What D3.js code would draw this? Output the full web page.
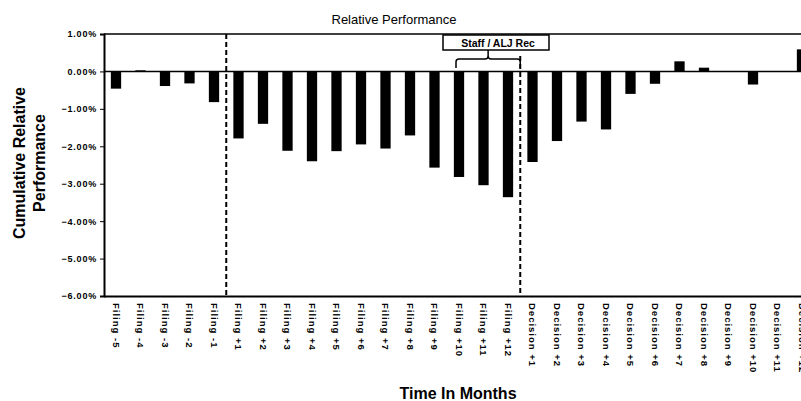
<!DOCTYPE html>
<html>
<head>
<meta charset="utf-8">
<script src="https://cdn.jsdelivr.net/npm/d3@7"></script>
<style>
  body { margin: 0; background: #fff; overflow: hidden; }
  svg { display: block; font-family: "Liberation Sans", Arial, sans-serif; }
</style>
</head>
<body>
<div id="chart"></div>
<script>
// categorias del eje X
const filingBefore = ["Filing -5", "Filing -4", "Filing -3", "Filing -2", "Filing -1"];
const filingAfter = ["Filing +1", "Filing +2", "Filing +3", "Filing +4", "Filing +5", "Filing +6",
  "Filing +7", "Filing +8", "Filing +9", "Filing +10", "Filing +11", "Filing +12"];
const decision = ["Decision +1", "Decision +2", "Decision +3", "Decision +4", "Decision +5", "Decision +6",
  "Decision +7", "Decision +8", "Decision +9", "Decision +10", "Decision +11", "Decision +12"];
const categories = filingBefore.concat(filingAfter, decision);

// valores (%)
const values = [-0.46, 0.03, -0.39, -0.32, -0.82,
  -1.79, -1.40, -2.12, -2.40, -2.13, -1.95, -2.06, -1.71, -2.57, -2.82, -3.04, -3.36,
  -2.42, -1.86, -1.34, -1.55, -0.60, -0.33, 0.27, 0.10, 0.0, -0.35, 0.0, 0.59];

const yTicks = [1, 0, -1, -2, -3, -4, -5, -6];
const title = "Relative Performance";
const xTitle = "Time In Months";
const yTitle = ["Cumulative Relative", "Performance"];
const noteText = "Staff / ALJ Rec";

const data = categories.map((c, i) => ({ cat: c, val: values[i] }));

var W = 801, H = 401;
var plotLeft = 104, plotTop = 34, plotBottom = 296;
var step = 24.5;

var svg = d3.select("#chart").append("svg")
  .attr("width", W)
  .attr("height", H);

// escalas
var x = d3.scaleBand()
  .domain(categories)
  .range([plotLeft - 0.25, plotLeft - 0.25 + step * categories.length])
  .paddingInner(0.58)
  .paddingOuter(0.29);
var y = d3.scaleLinear().domain([-6, 1]).range([plotBottom, plotTop]);

// titulo
svg.append("text")
  .attr("x", 394).attr("y", 24)
  .attr("text-anchor", "middle")
  .style("font-size", "13px")
  .text(title);

// marco superior
svg.append("line")
  .attr("x1", plotLeft).attr("x2", W + 10)
  .attr("y1", y(1)).attr("y2", y(1))
  .attr("stroke", "#000").attr("stroke-width", 1.5);

// barras
svg.selectAll("rect.bar")
  .data(data)
  .enter()
  .append("rect")
  .attr("class", "bar")
  .attr("x", d => x(d.cat))
  .attr("width", x.bandwidth())
  .attr("y", d => y(Math.max(0, d.val)))
  .attr("height", d => Math.abs(y(d.val) - y(0)))
  .attr("fill", "#000");

// linea cero
svg.append("line")
  .attr("x1", plotLeft).attr("x2", W + 10)
  .attr("y1", y(0)).attr("y2", y(0))
  .attr("stroke", "#000").attr("stroke-width", 1.5);

// eje Y
var yAxis = d3.axisLeft(y)
  .tickValues(yTicks)
  .tickSize(4)
  .tickFormat(d => d3.format(".2f")(d) + "%");
var gy = svg.append("g")
  .attr("transform", "translate(" + plotLeft + ",0)")
  .call(yAxis);
gy.select(".domain").attr("stroke-width", 2);
gy.selectAll("text")
  .attr("x", -7)
  .style("font-size", "9px")
  .style("letter-spacing", "0.8px")
  .style("font-weight", "bold")
  .attr("fill", "#000");

// eje X
var xAxis = d3.axisBottom(x).tickSize(0).tickSizeOuter(0);
var gx = svg.append("g")
  .attr("transform", "translate(0," + plotBottom + ")")
  .call(xAxis);
gx.select(".domain").attr("stroke-width", 2);
gx.selectAll("text")
  .attr("transform", "rotate(90)")
  .attr("x", 7)
  .attr("y", 0)
  .attr("dy", "0.35em")
  .style("text-anchor", "start")
  .style("font-size", "9.5px")
  .style("letter-spacing", "1px")
  .style("font-weight", "bold")
  .attr("fill", "#000");

// lineas discontinuas
var mid = function(a, b) { return (x(a) + x(b) + x.bandwidth()) / 2; };
var x1 = mid("Filing -1", "Filing +1");
var x2 = mid("Filing +12", "Decision +1");
svg.append("line")
  .attr("x1", x1).attr("x2", x1)
  .attr("y1", y(1)).attr("y2", plotBottom)
  .attr("stroke", "#000").attr("stroke-width", 2)
  .attr("stroke-dasharray", "5,3");
svg.append("line")
  .attr("x1", x2).attr("x2", x2)
  .attr("y1", 56).attr("y2", plotBottom)
  .attr("stroke", "#000").attr("stroke-width", 2)
  .attr("stroke-dasharray", "5,3");

// anotacion
var bl = x("Filing +10") + x.bandwidth() / 2 - 3;
var br = x2;
var bc = (bl + br) / 2;
svg.append("rect")
  .attr("x", 443).attr("y", 35)
  .attr("width", 106).attr("height", 15)
  .attr("fill", "#fff")
  .attr("stroke", "#000").attr("stroke-width", 1.5);
svg.append("text")
  .attr("x", 498).attr("y", 47)
  .attr("text-anchor", "middle")
  .style("font-size", "10.5px")
  .style("font-weight", "bold")
  .text(noteText);
svg.append("path")
  .attr("d", "M" + bl + ",68 L" + bl + ",62 Q" + bl + ",59 " + (bl + 3) + ",59 L" + (bc - 3) + ",59 Q" + bc + ",59 " + bc + ",56 L" + bc + ",50" +
    " M" + bc + ",56 Q" + bc + ",59 " + (bc + 3) + ",59 L" + (br - 3) + ",59 Q" + br + ",59 " + br + ",62 L" + br + ",68")
  .attr("fill", "none")
  .attr("stroke", "#000").attr("stroke-width", 1.5);

// titulos de ejes
svg.append("text")
  .attr("transform", "translate(" + 458 + "," + 399 + ")")
  .attr("text-anchor", "middle")
  .style("font-size", "16px")
  .style("font-weight", "bold")
  .text(xTitle);

svg.selectAll("text.ytitle")
  .data(yTitle)
  .enter()
  .append("text")
  .attr("class", "ytitle")
  .attr("transform", (d, i) => "translate(" + (25 + i * 20) + "," + 163 + ") rotate(-90)")
  .attr("text-anchor", "middle")
  .style("font-size", "16px")
  .style("font-weight", "bold")
  .text(d => d);
</script>
</body>
</html>
